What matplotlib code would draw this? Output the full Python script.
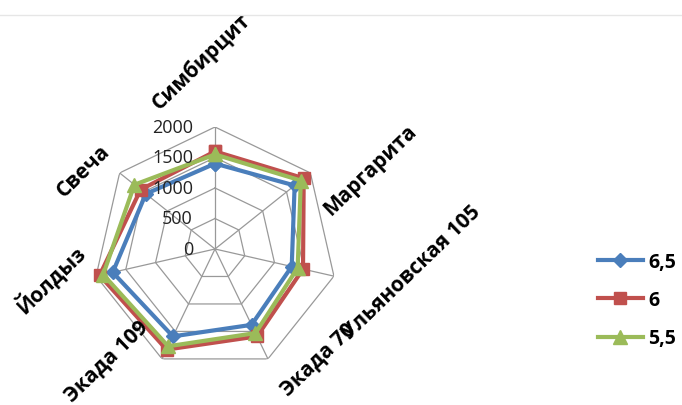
import numpy as np
import matplotlib
matplotlib.use('Agg')
import matplotlib.pyplot as plt
from matplotlib.transforms import offset_copy
from matplotlib.patches import Rectangle
from matplotlib.lines import Line2D

plt.rcParams['font.family'] = ['Open Sans', 'DejaVu Sans']

categories = ['Симбирцит', 'Маргарита', 'Ульяновская 105', 'Экада 70',
              'Экада 109', 'Йолдыз', 'Свеча']
series_names = ['6,5', '6', '5,5']
vals_65 = [1400, 1670, 1290, 1380, 1590, 1720, 1450]
vals_6 = [1600, 1860, 1480, 1590, 1830, 1940, 1560]
vals_55 = [1550, 1800, 1390, 1530, 1770, 1880, 1690]
r_ticks = [0, 500, 1000, 1500, 2000]

colors = ['#4A7EBB', '#C0504D', '#9BBB59']
markers = ['D', 's', '^']
msizes = [7, 9, 10]

W, H = 682, 406
fig = plt.figure(figsize=(W / 100, H / 100), dpi=100)

# chart centre ~ (215, 250) px, outer ring radius ~122 px
cx, cy, R = 215, 250, 122
ax = fig.add_axes([(cx - R) / W, (H - cy - R) / H, 2 * R / W, 2 * R / H],
                  projection='polar')
ax.set_theta_zero_location('N')
ax.set_theta_direction(-1)
ax.set_ylim(0, r_ticks[-1])
ax.grid(False)
ax.spines['polar'].set_visible(False)
ax.set_xticks([])
ax.set_yticks([])
ax.patch.set_alpha(0)

n = len(categories)
angles = np.linspace(0, 2 * np.pi, n, endpoint=False)
closed = np.append(angles, angles[0])

# polygon grid, excel style
for r in r_ticks[1:]:
    ax.plot(closed, [r] * (n + 1), color='#999999', lw=0.9, zorder=1)
for a in angles:
    ax.plot([a, a], [0, r_ticks[-1]], color='#999999', lw=0.9, zorder=1)

# radial tick labels, to the left of the top spoke
lab_tr = offset_copy(ax.transData, fig=fig, x=-22, y=0, units='dots')
for r in r_ticks:
    ax.text(0, r, str(r), transform=lab_tr, ha='right', va='center',
            fontsize=13, color='#222222', zorder=5)

for vals, name, c, m, ms in zip([vals_65, vals_6, vals_55], series_names,
                                colors, markers, msizes):
    v = np.append(vals, vals[0])
    ax.plot(closed, v, color=c, lw=3.0, marker=m, markersize=ms,
            markeredgecolor=c, label=name, zorder=3, clip_on=False)

# category labels (rotated like the original)
label_px = [(201, 62), (370, 171), (412, 273), (318, 360),
            (107, 362), (50, 279), (83, 171)]
for txt, (x, y) in zip(categories, label_px):
    fig.text(x / W, 1 - y / H, txt, rotation=44, ha='center', va='center',
             rotation_mode='anchor', fontsize=15, fontweight='bold',
             color='black')

# cropped top strip of the original picture
fig.patches.append(Rectangle((0, 1 - 16 / H), 1, 16 / H, transform=fig.transFigure,
                             facecolor='white', edgecolor='none', zorder=10))
fig.add_artist(Line2D([0, 1], [1 - 16 / H, 1 - 16 / H], color='#e6e6e6', lw=1,
                      zorder=11))

handles, labels = ax.get_legend_handles_labels()
fig.legend(handles, labels, loc='center left',
           bbox_to_anchor=(598 / W, 1 - 301 / H), frameon=False,
           borderpad=0, borderaxespad=0,
           handlelength=2.3, handletextpad=0.3, labelspacing=0.95,
           prop={'weight': 'bold', 'size': 14})

fig.savefig('out.png', dpi=100)
